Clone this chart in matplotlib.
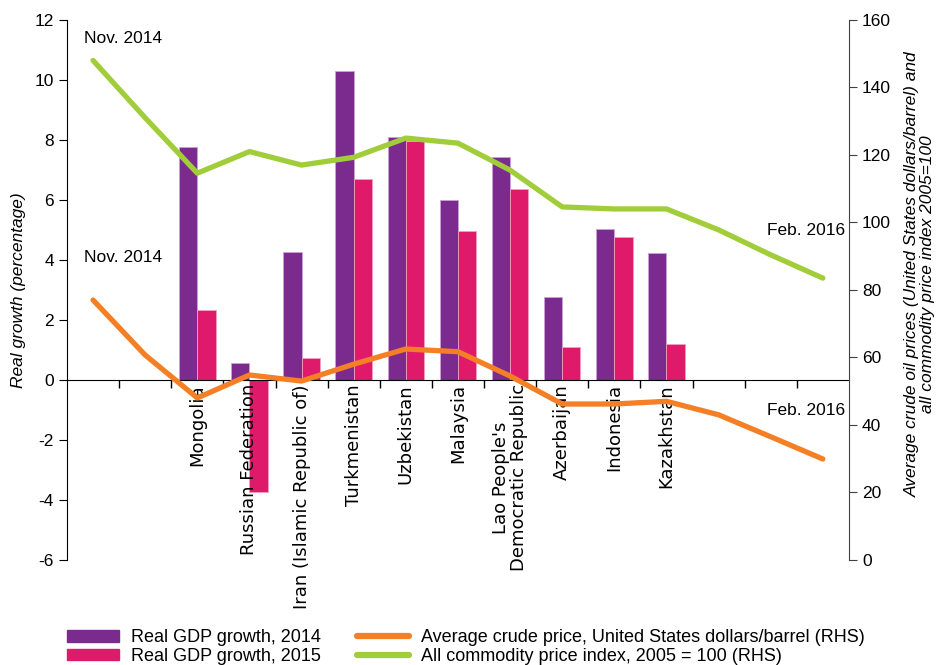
"""GDP growth vs. oil and commodity prices, bars plus RHS lines."""

import numpy as np
import matplotlib
matplotlib.use("Agg")
import matplotlib.pyplot as plt
from matplotlib.patches import Patch
from matplotlib.lines import Line2D

plt.rcParams['font.family'] = ['Liberation Sans', 'DejaVu Sans']
plt.rcParams['axes.unicode_minus'] = False

# 15 monthly slots, Nov. 2014 .. Feb. 2016; countries sit in slots 2..11
countries = ["", "", "Mongolia", "Russian Federation", "Iran (Islamic Republic of)",
             "Turkmenistan", "Uzbekistan", "Malaysia",
             "Lao People's\nDemocratic Republic", "Azerbaijan", "Indonesia",
             "Kazakhstan", "", "", ""]
gdp_2014 = [np.nan, np.nan, 7.77, 0.57, 4.27, 10.3, 8.1, 6.0, 7.43, 2.76, 5.04, 4.24,
            np.nan, np.nan, np.nan]
gdp_2015 = [np.nan, np.nan, 2.33, -3.73, 0.74, 6.7, 7.95, 4.97, 6.36, 1.1, 4.78, 1.2,
            np.nan, np.nan, np.nan]
crude_price = [77.0, 60.7, 48.0, 54.8, 53.0, 58.0, 62.5, 61.7, 54.5, 46.2, 46.2, 47.0,
               43.0, 36.5, 29.9]
commodity_index = [148.0, 131.0, 114.6, 121.0, 117.0, 119.3, 125.0, 123.5, 115.5,
                   104.6, 104.0, 104.0, 97.8, 90.4, 83.5]

PURPLE = '#7B2A8E'
PINK = '#E01A6A'
ORANGE = '#F47F24'
GREEN = '#A2CD3A'

x = np.arange(len(countries))
w = 0.35

fig = plt.figure(figsize=(9.37, 6.65), dpi=100)
ax = fig.add_axes([0.0715, 0.158, 0.8345, 0.812])
ax2 = ax.twinx()

ax.bar(x - w / 2, gdp_2014, width=w, color=PURPLE, edgecolor='#C9A3D3', linewidth=0.6)
ax.bar(x + w / 2, gdp_2015, width=w, color=PINK, edgecolor='#F2A0C0', linewidth=0.6)

ax2.plot(x, crude_price, color=ORANGE, linewidth=3.8, solid_capstyle='round')
ax2.plot(x, commodity_index, color=GREEN, linewidth=3.8, solid_capstyle='round')

ax.set_xlim(-0.5, len(countries) - 0.5)
ax.set_ylim(-6, 12)
ax.set_yticks(np.arange(-6, 13, 2))
ax2.set_ylim(0, 160)
ax2.set_yticks(np.arange(0, 161, 20))

# x axis sits on the zero line, ticks at slot boundaries
ax.spines['bottom'].set_position(('data', 0))
for a in (ax, ax2):
    a.spines['top'].set_visible(False)
ax.spines['right'].set_visible(False)
ax2.spines['left'].set_visible(False)
ax2.spines['bottom'].set_visible(False)
ax2.spines['right'].set_color('#404040')

ax.set_xticks(np.arange(0.5, len(countries) - 0.5, 1.0))
ax.set_xticklabels([])
ax.tick_params(axis='x', which='major', direction='out', length=6, width=1)
ax.set_xticks(x, minor=True)
ax.set_xticklabels(countries, minor=True, rotation=90, va='top', ha='center',
                   fontsize=13, family='DejaVu Sans', linespacing=1.0)
ax.tick_params(axis='x', which='minor', length=0, pad=3)

ax.tick_params(axis='y', direction='out', length=6, labelsize=12.5)
ax2.tick_params(axis='y', direction='out', length=6, labelsize=12.5, color='#404040')

ax.set_ylabel("Real growth (percentage)", fontsize=12.5, style='italic', labelpad=6)
ax2.set_ylabel("Average crude oil prices (United States dollars/barrel) and\n"
               "all commodity price index 2005=100", fontsize=12.5, style='italic',
               linespacing=1.0)
ax2.yaxis.set_label_coords(1.072, 0.53)

ax2.text(-0.18, 154.5, "Nov. 2014", fontsize=12.5, ha='left', va='center')
ax2.text(-0.18, 89.5, "Nov. 2014", fontsize=12.5, ha='left', va='center')
ax2.text(14.43, 97.5, "Feb. 2016", fontsize=12.5, ha='right', va='center')
ax2.text(14.43, 44.3, "Feb. 2016", fontsize=12.5, ha='right', va='center')

handles = [Patch(color=PURPLE), Patch(color=PINK),
           Line2D([], [], color=ORANGE, linewidth=4.5, solid_capstyle='round'),
           Line2D([], [], color=GREEN, linewidth=4.5, solid_capstyle='round')]
labels = ["Real GDP growth, 2014", "Real GDP growth, 2015",
          "Average crude price, United States dollars/barrel (RHS)",
          "All commodity price index, 2005 = 100 (RHS)"]
fig.legend(handles, labels, ncol=2, loc='lower left', bbox_to_anchor=(0.058, -0.019),
           frameon=False, fontsize=13, handlelength=2.9, handleheight=0.6,
           labelspacing=0.1, handletextpad=0.65, columnspacing=2.0, borderpad=0.2)

fig.savefig("out.png", dpi=100)
